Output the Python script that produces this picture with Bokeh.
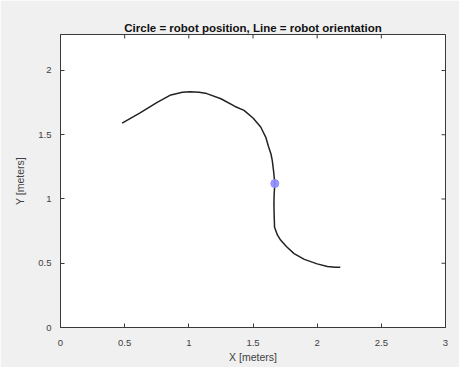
import math
from bokeh.plotting import figure
from bokeh.models import Range1d, FixedTicker, Title
from bokeh.embed import file_html
from bokeh.resources import INLINE

path_x = [0.48, 0.62, 0.75, 0.86, 0.95, 1.01, 1.08, 1.14, 1.25, 1.36, 1.43, 1.50, 1.56,
          1.60, 1.62, 1.64, 1.65, 1.66, 1.67, 1.665, 1.663, 1.665, 1.668, 1.69, 1.715,
          1.76, 1.82, 1.90, 2.00, 2.08, 2.14, 2.18]
path_y = [1.59, 1.67, 1.75, 1.81, 1.83, 1.835, 1.83, 1.82, 1.78, 1.72, 1.69, 1.63, 1.56,
          1.48, 1.41, 1.35, 1.30, 1.22, 1.12, 1.04, 0.96, 0.87, 0.78, 0.72, 0.68,
          0.63, 0.575, 0.53, 0.495, 0.475, 0.468, 0.468]
robot_x = [1.67]
robot_y = [1.12]
x_ticks = [0, 0.5, 1, 1.5, 2, 2.5, 3]
y_ticks = [0, 0.5, 1, 1.5, 2]
x_lim = (0, 3)
y_lim = (0, 2.28)
title_text = "Circle = robot position, Line = robot orientation"

font = "Liberation Sans"
bg = "#f0f0f0"
axc = "#3a3a3a"
txc = "#404040"

p = figure(frame_width=385, frame_height=293, output_backend="svg", toolbar_location=None,
           x_range=Range1d(*x_lim), y_range=Range1d(*y_lim),
           min_border_left=60, min_border_right=14, min_border_top=34, min_border_bottom=40,
           background_fill_color="white", border_fill_color=bg)
p.title = Title(text=title_text, align="center", text_font=font, text_font_size="11.5px",
                text_font_style="bold", text_color="#111111", offset=-1, standoff=2)
p.grid.visible = False
p.outline_line_color = axc
p.outline_line_width = 1

for ax, ticks in ((p.xaxis[0], x_ticks), (p.yaxis[0], y_ticks)):
    ax.ticker = FixedTicker(ticks=ticks)
    ax.major_tick_in = 4
    ax.major_tick_out = 0
    ax.minor_tick_line_color = None
    ax.axis_line_color = axc
    ax.major_tick_line_color = axc
    ax.major_label_text_font = font
    ax.major_label_text_font_size = "9.5px"
    ax.major_label_text_color = txc
    ax.axis_label_text_font = font
    ax.axis_label_text_font_size = "10.5px"
    ax.axis_label_text_font_style = "normal"
    ax.axis_label_text_color = txc

p.xaxis[0].axis_label = "X [meters]"
p.yaxis[0].axis_label = "Y [meters]"
p.xaxis[0].major_label_standoff = 12
p.xaxis[0].axis_label_standoff = 2
p.yaxis[0].major_label_standoff = 9
p.yaxis[0].axis_label_standoff = 9
p.yaxis[0].major_label_orientation = "horizontal"

# box ticks on the right and top edges (MATLAB style), clipped to the frame
p.scatter([x_lim[1]] * len(y_ticks), y_ticks, marker="dash", size=8, line_color=axc, line_width=1)
p.scatter(x_ticks, [y_lim[1]] * len(x_ticks), marker="dash", size=8, angle=math.pi / 2,
          line_color=axc, line_width=1)

p.line(path_x, path_y, line_color="#222222", line_width=1.5)
p.scatter(robot_x, robot_y, size=8, fill_color="#8c8cff", line_color="#8c8cff", fill_alpha=0.9)

open("out.html", "w").write(file_html(p, INLINE))
